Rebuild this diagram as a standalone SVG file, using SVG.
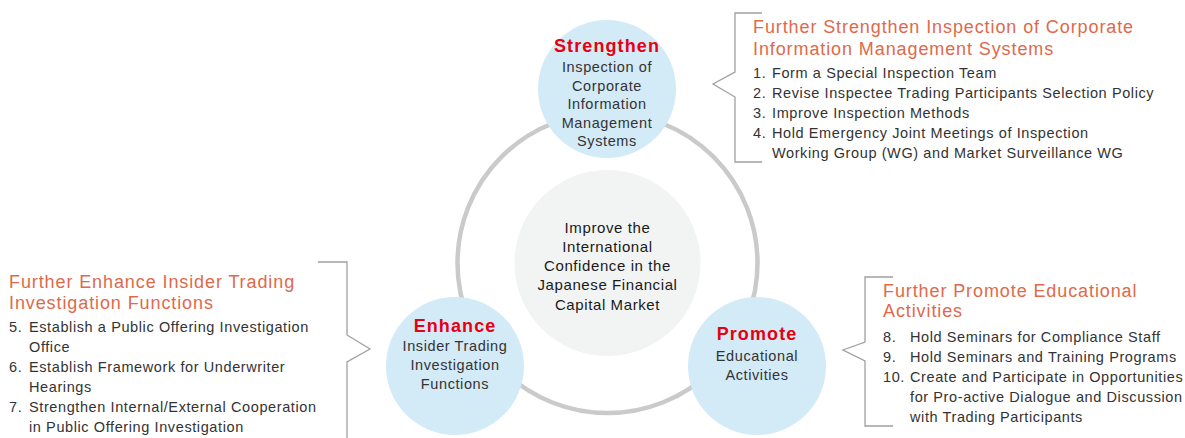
<svg xmlns="http://www.w3.org/2000/svg" width="1185" height="438" viewBox="0 0 1185 438">
  <style>
    text { font-family: "Liberation Sans", Arial, sans-serif; }
    .node { fill: #d3eaf7; }
    .core { fill: #f2f3f3; }
    .ring { fill: none; stroke: #c9caca; stroke-width: 4.5; }
    .brace { fill: none; stroke: #a0a0a0; stroke-width: 1.3; }
    .head { font-weight: bold; font-size: 18px; letter-spacing: 1.1px; fill: #e60012; text-anchor: middle; }
    .sub { font-size: 14.5px; letter-spacing: 0.6px; fill: #333333; text-anchor: middle; }
    .center { font-size: 15px; letter-spacing: 0.6px; fill: #1a1a1a; text-anchor: middle; }
    .title { font-size: 18px; letter-spacing: 0.9px; fill: #e0694a; }
    .item { font-size: 14.5px; letter-spacing: 0.6px; fill: #333333; }
  </style>

  <!-- cycle ring linking the three measures, plus the list braces -->
  <g id="connectors">
    <circle class="ring" cx="607.5" cy="263" r="150"/>
    <polyline class="brace" points="762,13 735,13 735,72 713,84 735,97 735,162 762,162"/>
    <polyline class="brace" points="318,262 347,262 347,335 370,349 347,362 347,440"/>
    <polyline class="brace" points="893,277 865,277 865,342 843,350 865,361 865,426 893,426"/>
  </g>

  <!-- central goal -->
  <g id="goal">
    <circle class="core" cx="607.5" cy="263" r="93"/>
    <text class="center" x="607.5" y="233">Improve the</text>
    <text class="center" x="607.5" y="252">International</text>
    <text class="center" x="607.5" y="271">Confidence in the</text>
    <text class="center" x="607.5" y="290">Japanese Financial</text>
    <text class="center" x="607.5" y="310">Capital Market</text>
  </g>

  <g id="strengthen">
    <circle class="node" cx="607" cy="89" r="69"/>
    <text class="head" x="607" y="52">Strengthen</text>
    <text class="sub" x="607" y="72">Inspection of</text>
    <text class="sub" x="607" y="91">Corporate</text>
    <text class="sub" x="607" y="109">Information</text>
    <text class="sub" x="607" y="128">Management</text>
    <text class="sub" x="607" y="146">Systems</text>
  </g>

  <g id="enhance">
    <circle class="node" cx="455" cy="366" r="69"/>
    <text class="head" x="455" y="332">Enhance</text>
    <text class="sub" x="455" y="351">Insider Trading</text>
    <text class="sub" x="455" y="370">Investigation</text>
    <text class="sub" x="455" y="389">Functions</text>
  </g>

  <g id="promote">
    <circle class="node" cx="757" cy="366" r="69"/>
    <text class="head" x="757" y="340">Promote</text>
    <text class="sub" x="757" y="361">Educational</text>
    <text class="sub" x="757" y="380">Activities</text>
  </g>

  <!-- action lists -->
  <g id="strengthen-actions">
    <text class="title" x="753" y="33">Further Strengthen Inspection of Corporate</text>
    <text class="title" x="753" y="55">Information Management Systems</text>
    <text class="item" x="753" y="78">1.</text><text class="item" x="772" y="78">Form a Special Inspection Team</text>
    <text class="item" x="753" y="98">2.</text><text class="item" x="772" y="98">Revise Inspectee Trading Participants Selection Policy</text>
    <text class="item" x="753" y="118">3.</text><text class="item" x="772" y="118">Improve Inspection Methods</text>
    <text class="item" x="753" y="138">4.</text><text class="item" x="772" y="138">Hold Emergency Joint Meetings of Inspection</text>
    <text class="item" x="772" y="158">Working Group (WG) and Market Surveillance WG</text>
  </g>

  <g id="enhance-actions">
    <text class="title" x="9" y="288">Further Enhance Insider Trading</text>
    <text class="title" x="9" y="309">Investigation Functions</text>
    <text class="item" x="9" y="332">5.</text><text class="item" x="29" y="332">Establish a Public Offering Investigation</text>
    <text class="item" x="29" y="352">Office</text>
    <text class="item" x="9" y="372">6.</text><text class="item" x="29" y="372">Establish Framework for Underwriter</text>
    <text class="item" x="29" y="392">Hearings</text>
    <text class="item" x="9" y="412">7.</text><text class="item" x="29" y="412">Strengthen Internal/External Cooperation</text>
    <text class="item" x="29" y="432">in Public Offering Investigation</text>
  </g>

  <g id="promote-actions">
    <text class="title" x="883" y="297">Further Promote Educational</text>
    <text class="title" x="883" y="317">Activities</text>
    <text class="item" x="883" y="342">8.</text><text class="item" x="910" y="342">Hold Seminars for Compliance Staff</text>
    <text class="item" x="883" y="362">9.</text><text class="item" x="910" y="362">Hold Seminars and Training Programs</text>
    <text class="item" x="883" y="382">10.</text><text class="item" x="910" y="382">Create and Participate in Opportunities</text>
    <text class="item" x="910" y="402">for Pro-active Dialogue and Discussion</text>
    <text class="item" x="910" y="422">with Trading Participants</text>
  </g>
</svg>
